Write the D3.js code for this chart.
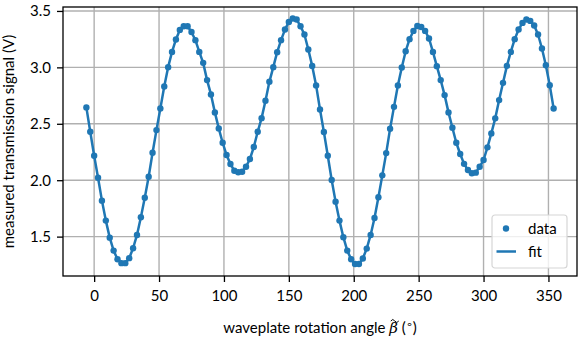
<!DOCTYPE html>
<html>
<head>
<meta charset="utf-8">
<script src="https://cdn.jsdelivr.net/npm/d3@7"></script>
<style>
  body { margin: 0; background: #fff; }
  svg text { font-family: Lato, "Open Sans", sans-serif; fill: #000; }
</style>
</head>
<body>
<div id="chart"></div>
<script>
// waveplate angle (deg), one reading every 3 degrees
const angles = [
  -6, -3, 0, 3, 6, 9, 12, 15, 18, 21, 24, 27, 30, 33, 36, 39, 42, 45, 48, 51,
  54, 57, 60, 63, 66, 69, 72, 75, 78, 81, 84, 87, 90, 93, 96, 99, 102, 105, 108, 111,
  114, 117, 120, 123, 126, 129, 132, 135, 138, 141, 144, 147, 150, 153, 156, 159, 162, 165, 168, 171,
  174, 177, 180, 183, 186, 189, 192, 195, 198, 201, 204, 207, 210, 213, 216, 219, 222, 225, 228, 231,
  234, 237, 240, 243, 246, 249, 252, 255, 258, 261, 264, 267, 270, 273, 276, 279, 282, 285, 288, 291,
  294, 297, 300, 303, 306, 309, 312, 315, 318, 321, 324, 327, 330, 333, 336, 339, 342, 345, 348, 351,
  354
]

// measured transmission signal (V)
const signal = [
  2.645, 2.429, 2.217, 2.022, 1.819, 1.642, 1.491, 1.376, 1.300, 1.265, 1.265, 1.309, 1.397, 1.515, 1.672, 1.845, 2.031, 2.243, 2.444, 2.636,
  2.831, 3.002, 3.137, 3.247, 3.332, 3.365, 3.365, 3.314, 3.241, 3.137, 3.040, 2.887, 2.760, 2.601, 2.459, 2.332, 2.223, 2.143, 2.084, 2.070,
  2.075, 2.119, 2.188, 2.294, 2.429, 2.550, 2.704, 2.872, 3.002, 3.135, 3.241, 3.335, 3.403, 3.433, 3.424, 3.365, 3.291, 3.158, 3.013, 2.840,
  2.627, 2.427, 2.217, 2.002, 1.810, 1.642, 1.495, 1.376, 1.300, 1.258, 1.258, 1.306, 1.394, 1.515, 1.665, 1.849, 2.043, 2.240, 2.456, 2.650,
  2.840, 2.999, 3.143, 3.250, 3.323, 3.367, 3.358, 3.323, 3.256, 3.137, 3.011, 2.887, 2.754, 2.601, 2.465, 2.332, 2.232, 2.145, 2.090, 2.061,
  2.067, 2.119, 2.179, 2.291, 2.415, 2.548, 2.710, 2.863, 3.013, 3.137, 3.250, 3.335, 3.394, 3.424, 3.412, 3.371, 3.291, 3.167, 3.019, 2.842,
  2.636
]

const xTicks = [0, 50, 100, 150, 200, 250, 300, 350]
const yTicks = [1.5, 2.0, 2.5, 3.0, 3.5]
const legendLabels = ["data", "fit"]

const width = 581, height = 339
const margin = { top: 7, right: 4, bottom: 63, left: 63 }
const blue = "#1f77b4"
const fs = 15

const data = angles.map((a, i) => ({ a: a, v: signal[i] }))

const svg = d3.select("#chart").append("svg")
    .attr("width", width)
    .attr("height", height)

const x = d3.scaleLinear()
    .domain([-24, 372])
    .range([margin.left, width - margin.right])

const y = d3.scaleLinear()
    .domain([1.151, 3.535])
    .range([height - margin.bottom, margin.top])

// grid
svg.append("g").selectAll("line")
    .data(xTicks)
    .enter().append("line")
    .attr("x1", d => x(d)).attr("x2", d => x(d))
    .attr("y1", margin.top).attr("y2", height - margin.bottom)
    .attr("stroke", "#b0b0b0").attr("stroke-width", 1.4)

svg.append("g").selectAll("line")
    .data(yTicks)
    .enter().append("line")
    .attr("x1", margin.left).attr("x2", width - margin.right)
    .attr("y1", d => y(d)).attr("y2", d => y(d))
    .attr("stroke", "#b0b0b0").attr("stroke-width", 1.4)

// fit line
const line = d3.line().x(d => x(d.a)).y(d => y(d.v))
svg.append("path")
    .datum(data)
    .attr("d", line)
    .attr("fill", "none")
    .attr("stroke", blue)
    .attr("stroke-width", 2.5)
    .attr("stroke-linejoin", "round")

// data points
svg.append("g").selectAll("circle")
    .data(data)
    .enter().append("circle")
    .attr("cx", d => x(d.a))
    .attr("cy", d => y(d.v))
    .attr("r", 3.2)
    .attr("fill", blue)

// axes
const xAxis = svg.append("g")
    .attr("transform", `translate(0,${height - margin.bottom})`)
    .call(d3.axisBottom(x).tickValues(xTicks).tickSize(6).tickPadding(8))
const yAxis = svg.append("g")
    .attr("transform", `translate(${margin.left},0)`)
    .call(d3.axisLeft(y).tickValues(yTicks).tickFormat(d3.format(".1f")).tickSize(6).tickPadding(6))

for (const ax of [xAxis, yAxis]) {
    ax.select(".domain").remove()
    ax.selectAll(".tick line").attr("stroke", "#000").attr("stroke-width", 1.3)
    ax.selectAll(".tick text").attr("font-size", fs).attr("font-family", null)
}

// frame
svg.append("rect")
    .attr("x", margin.left).attr("y", margin.top)
    .attr("width", width - margin.left - margin.right)
    .attr("height", height - margin.top - margin.bottom)
    .attr("fill", "none").attr("stroke", "#000").attr("stroke-width", 1.3)

// axis labels
const xl = svg.append("text")
    .attr("x", (margin.left + width - margin.right) / 2)
    .attr("y", 333)
    .attr("text-anchor", "middle")
    .attr("font-size", fs)
xl.append("tspan").text("waveplate rotation angle ")
const beta = xl.append("tspan").attr("font-style", "italic").attr("font-family", "DejaVu Serif").text("β")
xl.append("tspan").text(" (")
xl.append("tspan").attr("dy", -5).attr("font-size", 11).attr("font-family", "DejaVu Sans").text("\u2218")
xl.append("tspan").attr("dy", 5).text(")")

// tilde accent over beta, drawn as a small path
const bb = beta.node().getBBox()
const tx = bb.x + bb.width / 2 + 1.5, ty = bb.y + 1
svg.append("path")
    .attr("d", `M${tx - 4},${ty + 1} q2,-3 4,0 t4,0`)
    .attr("fill", "none").attr("stroke", "#000").attr("stroke-width", 1)

svg.append("text")
    .attr("transform", `translate(14,${(margin.top + height - margin.bottom) / 2}) rotate(-90)`)
    .attr("text-anchor", "middle")
    .attr("font-size", fs)
    .text("measured transmission signal (V)")

// legend
const lg = svg.append("g").attr("transform", "translate(492,215)")
lg.append("rect")
    .attr("width", 75).attr("height", 53).attr("rx", 3)
    .attr("fill", "#fff").attr("fill-opacity", 0.8)
    .attr("stroke", "#d6d6d6").attr("stroke-width", 1.2)
lg.append("circle").attr("cx", 14).attr("cy", 13.5).attr("r", 3.2).attr("fill", blue)
lg.append("line").attr("x1", 4.5).attr("x2", 24).attr("y1", 36.5).attr("y2", 36.5)
    .attr("stroke", blue).attr("stroke-width", 2.5)
lg.selectAll("text.lab")
    .data(legendLabels)
    .enter().append("text")
    .attr("class", "lab")
    .attr("x", 36)
    .attr("y", (d, i) => 18.5 + i * 23)
    .attr("font-size", fs)
    .text(d => d)
</script>
</body>
</html>
